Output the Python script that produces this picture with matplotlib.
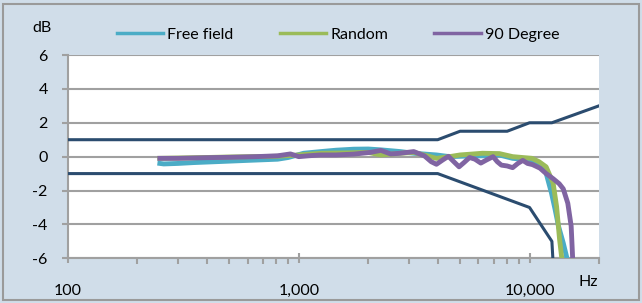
import numpy as np
import matplotlib
matplotlib.use("Agg")
import matplotlib.pyplot as plt
from matplotlib.patches import Rectangle
from matplotlib.ticker import FixedLocator, NullFormatter

plt.rcParams['font.family'] = ['Lato', 'DejaVu Sans']
plt.rcParams['axes.unicode_minus'] = False

# Free field response
ff_freq = [250, 260, 300, 350, 450, 600, 810, 900, 1050, 1250, 1450, 1730, 2000, 2270, 2750,
           3150, 3950, 4500, 5500, 6300, 7400, 8450, 9300, 10250, 11000, 11800, 12450, 12900,
           13350, 14000, 14650]
ff_db = [-0.4, -0.43, -0.4, -0.35, -0.29, -0.22, -0.15, -0.05, 0.2, 0.3, 0.38, 0.44, 0.45, 0.4, 0.3,
         0.2, 0.1, 0.0, 0.04, 0.05, 0.1, -0.1, -0.15, -0.2, -0.5, -0.97, -2.15, -3.1,
         -4.1, -5.1, -6.2]

# Random incidence response
rnd_freq = [250, 300, 400, 500, 630, 800, 1000, 1250, 1600, 2000, 2270, 2750, 3150, 3600, 3950,
            4500, 5000, 5600, 6250, 7400, 8450, 9300, 10250, 11000, 11800, 12650, 13100, 13500, 13850]
rnd_db = [-0.1, -0.08, -0.05, -0.02, 0.0, 0.02, 0.1, 0.2, 0.22, 0.25, 0.1, 0.2, 0.25, 0.05, -0.1,
          0.0, 0.1, 0.15, 0.2, 0.18, 0.0, -0.05, -0.1, -0.3, -0.6, -1.55, -2.95, -4.9, -6.2]

# 90 degree response
deg_freq = [250, 300, 400, 500, 650, 810, 920, 1000, 1100, 1240, 1450, 1730, 2040, 2270, 2500,
            2750, 3150, 3500, 3750, 3950, 4200, 4450, 4700, 4950, 5200, 5500, 5800, 6150, 6500,
            6950, 7250, 7550, 8000, 8450, 8900, 9350, 9800, 10300, 11100, 11800, 12650, 13450,
            14000, 14650, 15150, 15400]
deg_db = [-0.1, -0.1, -0.06, -0.04, 0.0, 0.05, 0.16, 0.0, 0.05, 0.1, 0.1, 0.15, 0.25, 0.37, 0.16,
          0.2, 0.3, 0.05, -0.3, -0.45, -0.2, 0.02, -0.3, -0.6, -0.35, -0.05, -0.15, -0.38, -0.2,
          0.0, -0.3, -0.5, -0.55, -0.65, -0.4, -0.22, -0.4, -0.47, -0.68, -1.0, -1.3, -1.6,
          -1.9, -2.75, -4.1, -6.2]

# tolerance limits
upper_freq = [100, 4000, 5000, 8000, 10000, 12500, 20000]
upper_db = [1, 1, 1.5, 1.5, 2, 2, 3]
lower_freq = [100, 4000, 10000, 12500, 12800]
lower_db = [-1, -1, -3, -5, -7.5]

y_ticks = [-6, -4, -2, 0, 2, 4, 6]
x_ticks = [100, 1000, 10000]
x_labels = ['100', '1,000', '10,000']

bg = '#d0dde9'
grid_col = '#a0a0a0'
navy = '#2b4c6f'

fig = plt.figure(figsize=(6.42, 3.03), dpi=100, facecolor=bg)
ax = fig.add_axes([68 / 642, 1 - 258.3 / 303, (599 - 68) / 642, (258.3 - 55) / 303])
ax.set_facecolor('white')

ax.plot(upper_freq, upper_db, color=navy, lw=2.2, zorder=3)
ax.plot(lower_freq, lower_db, color=navy, lw=2.2, zorder=3)
l1, = ax.plot(ff_freq, ff_db, color='#4bacc6', lw=3.5, solid_joinstyle='round', zorder=4)
l2, = ax.plot(rnd_freq, rnd_db, color='#9bbb59', lw=3.5, solid_joinstyle='round', zorder=5)
l3, = ax.plot(deg_freq, deg_db, color='#8064a2', lw=3.5, solid_joinstyle='round', zorder=6)

ax.set_xscale('log')
ax.set_xlim(100, 20000)
ax.set_ylim(-6, 6)
ax.set_yticks(y_ticks)
ax.set_yticklabels([str(v) for v in y_ticks])
ax.xaxis.set_major_locator(FixedLocator(x_ticks))
ax.set_xticklabels(x_labels)
minors = [m * d for d in (100, 1000) for m in range(2, 10)] + [20000]
ax.xaxis.set_minor_locator(FixedLocator(minors))
ax.xaxis.set_minor_formatter(NullFormatter())

ax.grid(axis='y', color=grid_col, lw=1.5)
ax.set_axisbelow(True)
for s in ('top', 'right'):
    ax.spines[s].set_visible(False)
for s in ('left', 'bottom'):
    ax.spines[s].set_color(grid_col)
    ax.spines[s].set_linewidth(1.5)

ax.tick_params(axis='x', which='major', direction='inout', length=7, width=1.5,
               color=grid_col, pad=15, labelsize=11.5, labelcolor='black')
ax.tick_params(axis='x', which='minor', direction='out', length=4, width=1.5, color=grid_col)
ax.tick_params(axis='y', direction='out', length=4.5, width=1.5, color=grid_col,
               pad=10, labelsize=11.5, labelcolor='black')

fig.text(42 / 642, 1 - 28 / 303, 'dB', ha='center', va='center', fontsize=11.5)
fig.text(588 / 642, 1 - 282 / 303, 'Hz', ha='center', va='center', fontsize=11.5)

leg = fig.legend([l1, l2, l3], ['Free field', 'Random', '90 Degree'], loc='center left',
                 bbox_to_anchor=(117 / 642, 1 - 35 / 303), ncol=3, frameon=False,
                 fontsize=11.5, handlelength=2.9, handletextpad=0.25, columnspacing=2.9,
                 borderpad=0, borderaxespad=0)
for h in leg.get_lines():
    h.set_linewidth(2.5)

fig.patches.append(Rectangle((3 / 642, 3 / 303), 636 / 642, 296 / 303, transform=fig.transFigure,
                             fill=False, edgecolor='#9a9a9a', lw=1.5))

fig.savefig('out.png', dpi=100, facecolor=bg)
